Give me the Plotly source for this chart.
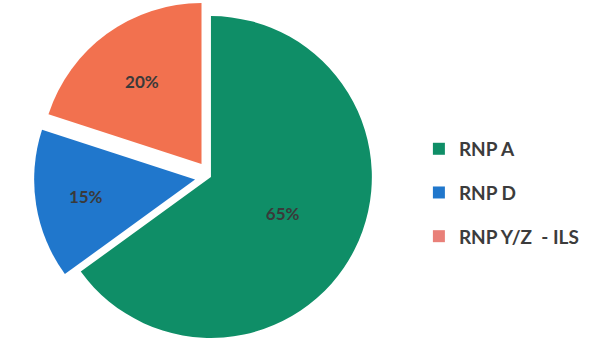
import plotly.graph_objects as go

labels = ["RNP A", "RNP D", "RNP Y/Z  - ILS"]
values = [65, 15, 20]
colors = ["#0f8e67", "#2077cc", "#f2714f"]
legend_colors = ["#0f8e67", "#2077cc", "#e98079"]
pulls = [0, 0.1, 0.1]

fig = go.Figure()
fig.add_trace(go.Pie(
    labels=labels, values=values, sort=False, direction="clockwise", rotation=0,
    pull=pulls, marker=dict(colors=colors, line=dict(width=0)),
    textinfo="percent", textposition="inside", insidetextorientation="horizontal",
    textfont=dict(family="Lato", size=17, color="#3a3a3a", weight="bold"),
    domain=dict(x=[0.01, 0.692], y=[0, 1]), showlegend=False, hoverinfo="label+percent",
))
for i, lab in enumerate(labels):
    fig.add_trace(go.Scatter(
        x=[None], y=[None], mode="markers", name=lab, legendgroup=lab,
        marker=dict(symbol="square", size=12, color=legend_colors[i]),
    ))

fig.update_layout(
    width=601, height=354, margin=dict(l=0, r=0, t=0, b=0),
    paper_bgcolor="white", plot_bgcolor="white",
    xaxis=dict(visible=False), yaxis=dict(visible=False),
    legend=dict(x=0.697, y=0.455, xanchor="left", yanchor="middle",
                font=dict(family="Lato", size=19, color="#3c3c3c", weight="bold"),
                tracegroupgap=16, itemsizing="constant"),
)
fig.write_html("out.html")
